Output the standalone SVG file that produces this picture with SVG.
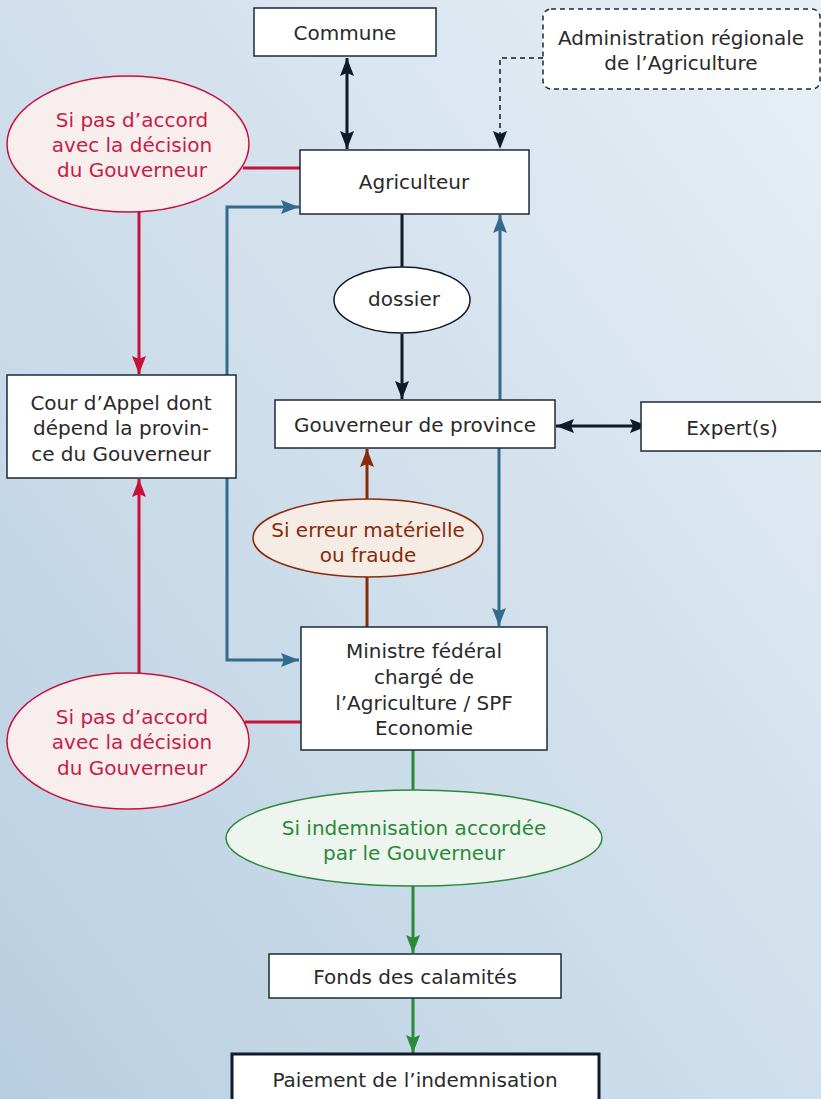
<svg xmlns="http://www.w3.org/2000/svg" width="821" height="1099" viewBox="0 0 821 1099">
<defs>
<linearGradient id="bg" x1="1" y1="0" x2="0" y2="1">
<stop offset="0" stop-color="#e8eff6"/>
<stop offset="1" stop-color="#b8cfe1"/>
</linearGradient>
<marker id="aD" viewBox="0 0 18 14" refX="18" refY="7" markerWidth="18" markerHeight="14" markerUnits="userSpaceOnUse" orient="auto-start-reverse"><path d="M0,0 L18,7 L0,14 L3,7 z" fill="#0d1b2a"/></marker>
<marker id="aB" viewBox="0 0 18 14" refX="18" refY="7" markerWidth="18" markerHeight="14" markerUnits="userSpaceOnUse" orient="auto-start-reverse"><path d="M0,0 L18,7 L0,14 L3,7 z" fill="#336b8c"/></marker>
<marker id="aR" viewBox="0 0 18 14" refX="18" refY="7" markerWidth="18" markerHeight="14" markerUnits="userSpaceOnUse" orient="auto"><path d="M0,0 L18,7 L0,14 L3,7 z" fill="#c8103a"/></marker>
<marker id="aBr" viewBox="0 0 18 14" refX="18" refY="7" markerWidth="18" markerHeight="14" markerUnits="userSpaceOnUse" orient="auto"><path d="M0,0 L18,7 L0,14 L3,7 z" fill="#8a2a08"/></marker>
<marker id="aG" viewBox="0 0 18 14" refX="18" refY="7" markerWidth="18" markerHeight="14" markerUnits="userSpaceOnUse" orient="auto"><path d="M0,0 L18,7 L0,14 L3,7 z" fill="#2a8a3a"/></marker>
</defs>
<style>
text{font-family:"DejaVu Sans","Liberation Sans",sans-serif;font-size:20px;text-anchor:middle;fill:#2a2a2a}
.box{fill:#fff;stroke:#1a2a38;stroke-width:1.5}
.red{fill:#f8eeee;stroke:#c8103a;stroke-width:1.5}
.redt{fill:#c41e48}
.brn{fill:#f5ece6;stroke:#8a2a08;stroke-width:1.5}
.brnt{fill:#8a2a08}
.grn{fill:#eef5ee;stroke:#2a8a3a;stroke-width:1.5}
.grnt{fill:#2a8a3a}
.c{fill:none;stroke-width:3}
.cd{stroke:#0d1b2a}
.cb{stroke:#336b8c}
.cr{stroke:#c8103a}
.cbr{stroke:#8a2a08}
.cg{stroke:#2a8a3a}
</style>
<rect width="821" height="1099" fill="url(#bg)"/>
<g id="connectors">
<line class="c cd" x1="347" y1="58" x2="347" y2="149" marker-start="url(#aD)" marker-end="url(#aD)"/>
<path d="M543,58 H500 V149" fill="none" stroke="#0d1b2a" stroke-width="1.5" stroke-dasharray="5,4" marker-end="url(#aD)"/>
<line class="c cr" x1="243" y1="168" x2="300" y2="168"/>
<line class="c cr" x1="139" y1="212" x2="139" y2="374" marker-end="url(#aR)"/>
<line class="c cr" x1="245" y1="722" x2="301" y2="722"/>
<line class="c cr" x1="139" y1="674" x2="139" y2="479" marker-end="url(#aR)"/>
<path class="c cb" d="M299,207 H227 V660 H299" marker-start="url(#aB)" marker-end="url(#aB)"/>
<line class="c cd" x1="402" y1="214" x2="402" y2="267"/>
<line class="c cd" x1="402" y1="334" x2="402" y2="399" marker-end="url(#aD)"/>
<line class="c cb" x1="500" y1="400" x2="500" y2="215" marker-end="url(#aB)"/>
<line class="c cb" x1="499" y1="448" x2="499" y2="626" marker-end="url(#aB)"/>
<line class="c cd" x1="556" y1="426" x2="648" y2="426" marker-start="url(#aD)" marker-end="url(#aD)"/>
<line class="c cbr" x1="367" y1="627" x2="367" y2="577"/>
<line class="c cbr" x1="367" y1="499" x2="367" y2="449" marker-end="url(#aBr)"/>
<line class="c cg" x1="413" y1="750" x2="413" y2="790"/>
<line class="c cg" x1="413" y1="886" x2="413" y2="953" marker-end="url(#aG)"/>
<line class="c cg" x1="413" y1="998" x2="413" y2="1053" marker-end="url(#aG)"/>
</g>
<g id="commune"><rect class="box" x="254" y="8" width="182" height="48"/><text x="345" y="40">Commune</text></g>
<g id="admin"><rect x="543" y="9" width="277" height="80" rx="8" fill="#fff" stroke="#1a2a38" stroke-width="1.5" stroke-dasharray="5,4"/><text x="681" y="45">Administration régionale</text><text x="681" y="70">de l’Agriculture</text></g>
<g id="agriculteur"><rect class="box" x="300" y="150" width="229" height="64"/><text x="414" y="189">Agriculteur</text></g>
<g id="pasaccord1"><ellipse class="red" cx="128" cy="144" rx="121" ry="68"/><text class="redt" x="132" y="127">Si pas d’accord</text><text class="redt" x="132" y="152">avec la décision</text><text class="redt" x="132" y="177">du Gouverneur</text></g>
<g id="dossier"><ellipse cx="402" cy="300" rx="68" ry="33" fill="#fff" stroke="#0d1b2a" stroke-width="1.5"/><text x="404" y="306">dossier</text></g>
<g id="cour"><rect class="box" x="7" y="375" width="229" height="103"/><text x="121" y="410">Cour d’Appel dont</text><text x="121" y="435">dépend la provin-</text><text x="121" y="461">ce du Gouverneur</text></g>
<g id="gouverneur"><rect class="box" x="275" y="400" width="280" height="48"/><text x="415" y="432">Gouverneur de province</text></g>
<g id="expert"><rect class="box" x="641" y="402" width="200" height="49"/><text x="732" y="435">Expert(s)</text></g>
<g id="erreur"><ellipse class="brn" cx="368" cy="538" rx="115" ry="39"/><text class="brnt" x="368" y="537">Si erreur matérielle</text><text class="brnt" x="368" y="562">ou fraude</text></g>
<g id="ministre"><rect class="box" x="301" y="627" width="246" height="123"/><text x="424" y="658">Ministre fédéral</text><text x="424" y="684">chargé de</text><text x="424" y="710">l’Agriculture / SPF</text><text x="424" y="735">Economie</text></g>
<g id="pasaccord2"><ellipse class="red" cx="128" cy="741" rx="121" ry="68"/><text class="redt" x="132" y="724">Si pas d’accord</text><text class="redt" x="132" y="749">avec la décision</text><text class="redt" x="132" y="775">du Gouverneur</text></g>
<g id="indemnisation"><ellipse class="grn" cx="414" cy="838" rx="188" ry="48"/><text class="grnt" x="414" y="835">Si indemnisation accordée</text><text class="grnt" x="414" y="860">par le Gouverneur</text></g>
<g id="fonds"><rect class="box" x="269" y="954" width="292" height="44"/><text x="415" y="984">Fonds des calamités</text></g>
<g id="paiement"><rect x="232" y="1054" width="367" height="60" fill="#fff" stroke="#0d1b2a" stroke-width="3"/><text x="415" y="1087">Paiement de l’indemnisation</text></g>
</svg>
